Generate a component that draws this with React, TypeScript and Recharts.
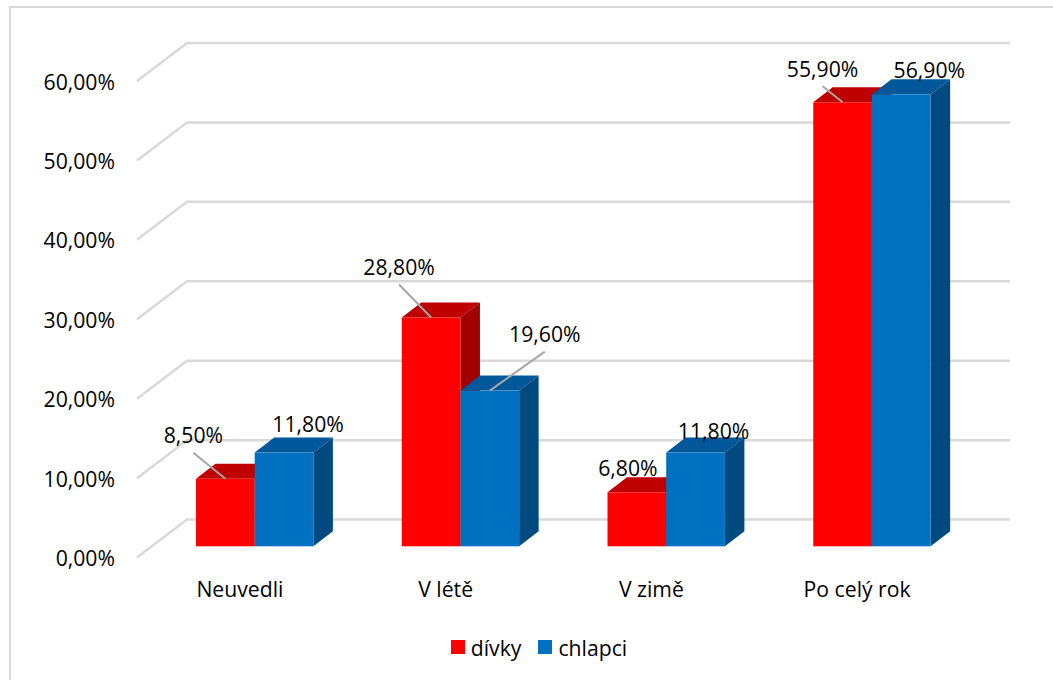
import { Bar, BarChart, CartesianGrid, LabelList, Legend, XAxis, YAxis } from "recharts";

const categories = ["Neuvedli", "V létě", "V zimě", "Po celý rok"];
const divky = [8.5, 28.8, 6.8, 55.9];
const chlapci = [11.8, 19.6, 11.8, 56.9];
const yTicks = [0, 10, 20, 30, 40, 50, 60];

const chartData = categories.map((name, i) => ({ name, divky: divky[i], chlapci: chlapci[i] }));

// label placement relative to the middle of the bar's front top edge
const divkyCallouts = [
  { dx: -32, dy: -44, leader: true },
  { dx: -32, dy: -51, leader: true },
  { dx: -9, dy: -25, leader: false },
  { dx: -20, dy: -34, leader: true },
];
const chlapciCallouts = [
  { dx: 24, dy: -29, leader: false },
  { dx: 55, dy: -57, leader: true },
  { dx: 18, dy: -22, leader: false },
  { dx: 28, dy: -25, leader: false },
];

const FONT = "'Open Sans', sans-serif";
const FONT_SIZE = 21.2;
const RED = "#ff0000";
const BLUE = "#0070c0";
const GRID = "#d9d9d9";

// the fake 3D box: how far the walls and the bars sit behind the front floor edge
const WALL_DX = 50;
const WALL_DY = -38;
const BAR_DX = 15;
const BAR_DY = -11.3;
const DEPTH_X = 19.5;
const DEPTH_Y = -15;

const shades: Record<string, { top: string; side: string }> = {
  [RED]: { top: "#bf0000", side: "#a00000" },
  [BLUE]: { top: "#00589a", side: "#004a80" },
};

const fmt = (v: number) => `${v.toFixed(2).replace(".", ",")}%`;

function Box3D({ x, y, width, height, fill }: any) {
  const l = x + BAR_DX;
  const r = l + width;
  const t = y + BAR_DY;
  const b = t + height;
  const { top, side } = shades[fill];
  return (
    <g>
      <polygon
        points={`${l},${t} ${l + DEPTH_X},${t + DEPTH_Y} ${r + DEPTH_X},${t + DEPTH_Y} ${r},${t}`}
        fill={top}
      />
      <polygon
        points={`${r},${t} ${r + DEPTH_X},${t + DEPTH_Y} ${r + DEPTH_X},${b + DEPTH_Y} ${r},${b}`}
        fill={side}
      />
      <rect x={l} y={t} width={width} height={height} fill={fill} />
    </g>
  );
}

function calloutLabel(callouts: typeof divkyCallouts) {
  return function CalloutLabel({ x, y, width, value, index }: any) {
    const c = callouts[index];
    const cx = x + BAR_DX + width / 2;
    const cy = y + BAR_DY;
    return (
      <g>
        {c.leader && (
          <line
            x1={cx + c.dx}
            y1={cy + c.dy + 18}
            x2={cx}
            y2={cy}
            stroke="#a6a6a6"
            strokeWidth={2}
          />
        )}
        <text
          x={cx + c.dx}
          y={cy + c.dy}
          textAnchor="middle"
          dominantBaseline="central"
          fontFamily={FONT}
          fontSize={FONT_SIZE}
          fill="#000"
        >
          {fmt(value)}
        </text>
      </g>
    );
  };
}

function WallLine({ x1, x2, y1 }: any) {
  const wx = x1 + WALL_DX;
  const wy = y1 + WALL_DY;
  return (
    <polyline
      points={`${x1},${y1} ${wx},${wy} ${x2 + WALL_DX},${wy}`}
      fill="none"
      stroke={GRID}
      strokeWidth={2.5}
    />
  );
}

function LegendRow({ payload }: any) {
  return (
    <div style={{ display: "flex", justifyContent: "center", alignItems: "center", height: 59, gap: 17, paddingLeft: 118 }}>
      {(payload ?? []).map((item: any) => (
        <span key={item.value} style={{ display: "flex", alignItems: "center", gap: 6 }}>
          <span style={{ width: 14, height: 14, background: item.color, display: "inline-block" }} />
          <span style={{ fontFamily: FONT, fontSize: FONT_SIZE, color: "#000" }}>{item.value}</span>
        </span>
      ))}
    </div>
  );
}

export default function App() {
  return (
    <div style={{ position: "absolute", left: 0, top: 0, width: 1053, height: 680, background: "#fff", overflow: "hidden" }}>
      <div
        style={{
          position: "absolute",
          left: 9,
          top: 6,
          width: 1060,
          height: 700,
          border: `2px solid ${GRID}`,
          boxSizing: "border-box",
        }}
      />
      <BarChart
        width={1053}
        height={680}
        data={chartData}
        margin={{ top: 81, right: 93, bottom: 0, left: 0 }}
        barSize={58.7}
        barGap={0}
        style={{ position: "absolute", left: 0, top: 0 }}
      >
        <CartesianGrid vertical={false} horizontal={(p: any) => <WallLine key={p.key ?? p.y1} {...p} />} />
        <XAxis
          dataKey="name"
          height={60}
          axisLine={false}
          tickLine={false}
          tickSize={0}
          tickMargin={24}
          tick={{ fontFamily: FONT, fontSize: FONT_SIZE, fill: "#000" }}
        />
        <YAxis
          width={137}
          domain={[0, 60]}
          ticks={yTicks}
          axisLine={false}
          tickLine={false}
          tickSize={0}
          tickMargin={22}
          tickFormatter={fmt}
          tick={{ fontFamily: FONT, fontSize: FONT_SIZE, fill: "#000", dy: 1 }}
        />
        <Legend verticalAlign="bottom" height={62.4} itemSorter={null} content={<LegendRow />} />
        <Bar dataKey="divky" name="dívky" fill={RED} shape={Box3D} isAnimationActive={false}>
          <LabelList dataKey="divky" content={calloutLabel(divkyCallouts)} />
        </Bar>
        <Bar dataKey="chlapci" name="chlapci" fill={BLUE} shape={Box3D} isAnimationActive={false}>
          <LabelList dataKey="chlapci" content={calloutLabel(chlapciCallouts)} />
        </Bar>
      </BarChart>
    </div>
  );
}
